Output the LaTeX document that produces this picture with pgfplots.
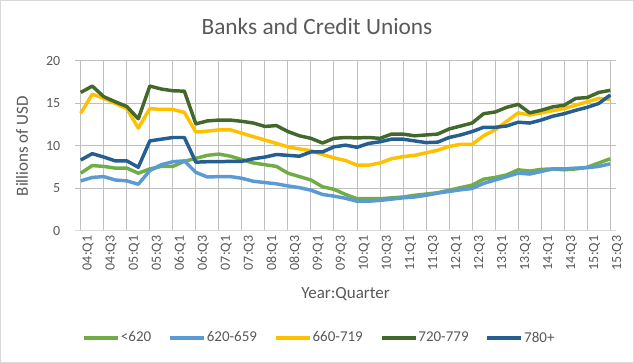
\documentclass[border=0pt]{standalone}
\usepackage{pgfplots}
\pgfplotsset{compat=1.18}
\usepackage{pgfplotstable}
\usepackage{fontspec}
\setmainfont{Carlito}
\definecolor{txt}{HTML}{595959}
\definecolor{grid}{HTML}{D9D9D9}
\definecolor{cA}{HTML}{70AD47}
\definecolor{cB}{HTML}{5B9BD5}
\definecolor{cC}{HTML}{FFC000}
\definecolor{cD}{HTML}{43682B}
\definecolor{cE}{HTML}{255E91}
\pgfplotstableread{
i a b c d e
0 6.8 5.9 13.85 16.3 8.35
1 7.7 6.3 16.1 17.05 9.1
2 7.6 6.4 15.6 15.8 8.7
3 7.4 6.0 15.0 15.2 8.25
4 7.4 5.9 14.4 14.65 8.25
5 6.8 5.5 12.1 13.2 7.5
6 7.3 7.1 14.4 17.05 10.6
7 7.6 7.8 14.3 16.7 10.8
8 7.6 8.15 14.3 16.5 11.0
9 8.2 8.25 13.95 16.45 11.0
10 8.55 6.9 11.65 12.6 8.1
11 8.9 6.35 11.75 12.95 8.15
12 9.05 6.4 11.9 13.05 8.15
13 8.8 6.4 11.9 13.05 8.2
14 8.4 6.2 11.5 12.9 8.2
15 8.0 5.85 11.1 12.7 8.5
16 7.8 5.7 10.7 12.3 8.7
17 7.6 5.55 10.3 12.4 9.0
18 6.8 5.3 9.9 11.7 8.9
19 6.4 5.1 9.65 11.2 8.8
20 6.0 4.8 9.45 10.9 9.3
21 5.2 4.3 9.0 10.35 9.3
22 4.9 4.1 8.6 10.9 9.9
23 4.3 3.85 8.3 11.0 10.1
24 3.8 3.5 7.75 10.95 9.85
25 3.8 3.5 7.75 11.0 10.3
26 3.8 3.6 8.0 10.9 10.5
27 3.9 3.75 8.5 11.4 10.8
28 4.0 3.9 8.75 11.4 10.8
29 4.2 4.0 8.9 11.2 10.6
30 4.35 4.2 9.2 11.3 10.4
31 4.5 4.45 9.5 11.4 10.45
32 4.8 4.65 9.95 12.0 11.0
33 5.1 4.85 10.2 12.35 11.3
34 5.4 5.0 10.2 12.7 11.7
35 6.1 5.6 11.2 13.8 12.2
36 6.3 6.0 11.9 14.0 12.2
37 6.6 6.4 12.9 14.55 12.35
38 7.2 6.8 13.9 14.9 12.8
39 7.05 6.7 13.65 13.9 12.7
40 7.25 7.0 13.9 14.2 13.05
41 7.3 7.3 14.15 14.6 13.5
42 7.2 7.3 14.4 14.8 13.8
43 7.3 7.4 14.8 15.6 14.2
44 7.5 7.45 15.2 15.7 14.55
45 8.0 7.6 15.6 16.3 15.0
46 8.5 7.9 15.5 16.55 16.0
}\datatable
\begin{document}
\begin{tikzpicture}
\begin{axis}[
  scale only axis,
  width=405.75pt, height=127.5pt,
  xmin=-0.5, xmax=46.5, ymin=0, ymax=20,
  axis line style={draw=none},
  axis x line*=bottom,
  axis y line*=left,
  ytick={0,5,...,20},
  ymajorgrids, grid style={grid, line width=0.75pt},
  major tick length=0pt,
  xtick={0,2,...,46},
  xticklabels={04:Q1,04:Q3,05:Q1,05:Q3,06:Q1,06:Q3,07:Q1,07:Q3,08:Q1,08:Q3,09:Q1,09:Q3,10:Q1,10:Q3,11:Q1,11:Q3,12:Q1,12:Q3,13:Q1,13:Q3,14:Q1,14:Q3,15:Q1,15:Q3},
  x tick label style={rotate=90, anchor=east, yshift=-5.5pt, font=\fontsize{10.5}{12}\selectfont, text=txt},
  y tick label style={xshift=-7.5pt, font=\fontsize{10.5}{12}\selectfont, text=txt},
  /pgf/number format/assume math mode=true,
  legend columns=5,
  legend style={at={(axis description cs:0.451,-0.629)}, anchor=center, draw=none, fill=none,
    font=\fontsize{11.25}{13}\selectfont, text=txt,
    nodes={inner sep=0.8pt},
    /tikz/every even column/.append style={column sep=12pt},
    /tikz/every odd column/.append style={column sep=0pt}},
  legend image code/.code={\draw[#1, line width=2.6pt] (0pt,0pt) -- (25.5pt,0pt);},
  every axis plot/.append style={line width=2.6pt, line join=round, mark=none},
]
\draw[grid, line width=0.75pt] (axis cs:-0.5,0) -- (axis cs:46.5,0);
\addplot[cA] table[x=i,y=a]{\datatable};
\addlegendentry{<620}
\addplot[cB] table[x=i,y=b]{\datatable};
\addlegendentry{620-659}
\addplot[cC] table[x=i,y=c]{\datatable};
\addlegendentry{660-719}
\addplot[cD] table[x=i,y=d]{\datatable};
\addlegendentry{720-779}
\addplot[cE] table[x=i,y=e]{\datatable};
\addlegendentry{780+}
\end{axis}
\node[anchor=base, text=txt, font=\fontsize{17.5}{20}\selectfont] at (181.5pt,147pt) {Banks and Credit Unions};
\node[text=txt, font=\fontsize{12.75}{15}\selectfont] at (202.9pt,-47.25pt) {Year:Quarter};
\node[rotate=90, text=txt, font=\fontsize{12.75}{15}\selectfont] at (-39.75pt,63.75pt) {Billions of USD};
\draw[grid, line width=0.75pt] (-55.875pt,-98.625pt) rectangle (418.875pt,172.875pt);
\pgfresetboundingbox
\path[use as bounding box] (-56.25pt,-99pt) rectangle (419.25pt,173.25pt);
\end{tikzpicture}
\end{document}
